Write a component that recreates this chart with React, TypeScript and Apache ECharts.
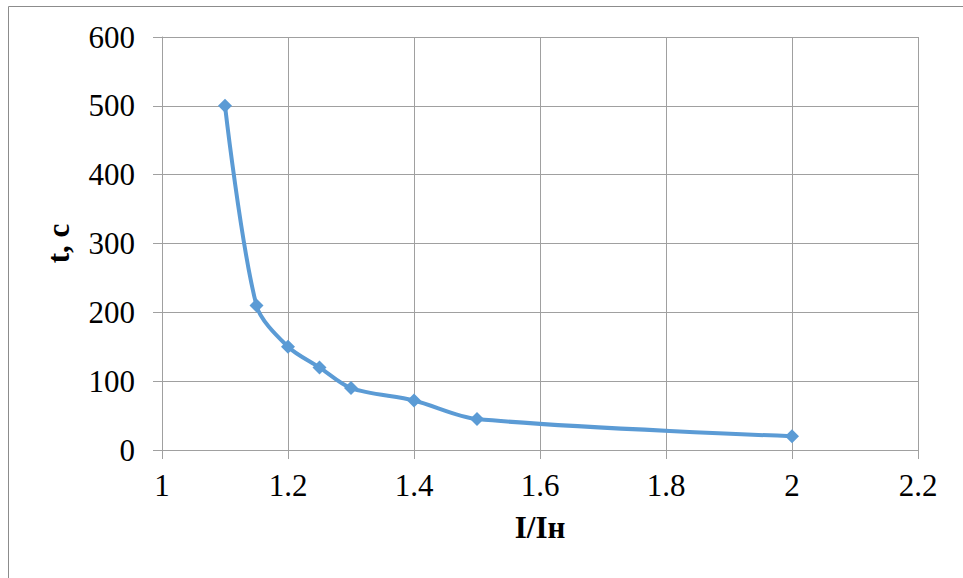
import React, { useEffect, useRef } from "react";
import * as echarts from "echarts";

// Current ratio I/Iн and the corresponding trip time t, s
const ratios = [1.1, 1.15, 1.2, 1.25, 1.3, 1.4, 1.5, 2];
const times = [500, 210, 150, 120, 90, 72, 45, 20];

const xTicks = { min: 1, max: 2.2, interval: 0.2 };
const yTicks = { min: 0, max: 600, interval: 100 };

const FONT = "Liberation Serif";
const GRID_COLOR = "#a0a0a0";

export default function App() {
  const ref = useRef<HTMLDivElement>(null);

  useEffect(() => {
    if (!ref.current) return;
    const chart = echarts.init(ref.current, undefined, { renderer: "svg" });
    chart.setOption({
      animation: false,
      backgroundColor: "#ffffff",
      textStyle: { fontFamily: FONT },
      grid: { left: 162, top: 37, right: 45, bottom: 128, containLabel: false },
      graphic: [
        {
          type: "rect",
          shape: { x: 8.5, y: 6.5, width: 1000, height: 1000 },
          style: { fill: "none", stroke: "#8c8c8c", lineWidth: 1 },
          silent: true,
        },
      ],
      xAxis: {
        type: "value",
        min: xTicks.min,
        max: xTicks.max,
        interval: xTicks.interval,
        name: "I/Iн",
        nameLocation: "middle",
        nameGap: 62,
        nameTextStyle: { fontFamily: FONT, fontSize: 31, fontWeight: "bold", color: "#000" },
        axisLine: { show: true, lineStyle: { color: GRID_COLOR, width: 1 } },
        axisTick: { show: true, length: 9, lineStyle: { color: GRID_COLOR } },
        axisLabel: {
          fontFamily: FONT,
          fontSize: 31,
          color: "#000",
          margin: 20,
          formatter: (v: number) => String(Math.round(v * 10) / 10),
        },
        splitLine: { show: true, lineStyle: { color: GRID_COLOR, width: 1 } },
      },
      yAxis: {
        type: "value",
        min: yTicks.min,
        max: yTicks.max,
        interval: yTicks.interval,
        name: "t, c",
        nameLocation: "middle",
        nameGap: 88,
        nameRotate: 90,
        nameTextStyle: { fontFamily: FONT, fontSize: 31, fontWeight: "bold", color: "#000" },
        axisLine: { show: true, lineStyle: { color: GRID_COLOR, width: 1 } },
        axisTick: { show: true, length: 9, lineStyle: { color: GRID_COLOR } },
        axisLabel: { fontFamily: FONT, fontSize: 31, color: "#000", margin: 27 },
        splitLine: { show: true, lineStyle: { color: GRID_COLOR, width: 1 } },
      },
      series: [
        {
          type: "line",
          data: ratios.map((r, i) => [r, times[i]]),
          smooth: 0.3,
          symbol: "diamond",
          symbolSize: 14,
          lineStyle: { color: "#5b9bd5", width: 4 },
          itemStyle: { color: "#5b9bd5" },
        },
      ],
    });
    return () => chart.dispose();
  }, []);

  return (
    <div
      ref={ref}
      style={{ position: "absolute", left: 0, top: 0, width: 963, height: 578 }}
    />
  );
}
